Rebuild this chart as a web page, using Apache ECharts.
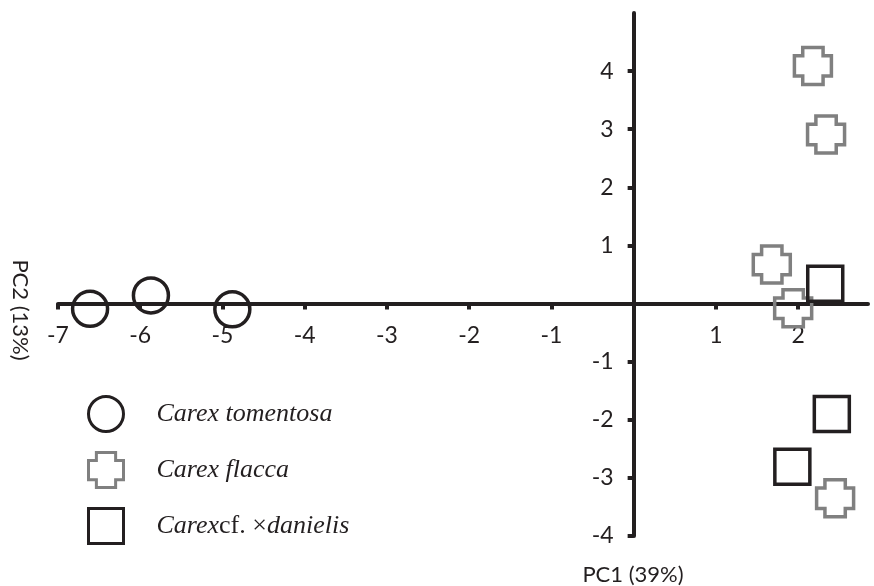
<!DOCTYPE html>
<html>
<head>
<meta charset="utf-8">
<script src="https://cdn.jsdelivr.net/npm/echarts@6/dist/echarts.min.js"></script>
<style>
  html, body { margin: 0; padding: 0; background: #fff; }
  #chart { width: 874px; height: 586px; }
</style>
</head>
<body>
<div id="chart"></div>
<script>
// PCA scores
var tomentosa = [[-6.61, -0.09], [-5.87, 0.14], [-4.88, -0.10]];
var flacca = [[2.18, 4.09], [2.34, 2.91], [1.68, 0.67], [1.94, -0.08], [2.45, -3.35]];
var danielis = [[2.33, 0.34], [2.41, -1.90], [1.93, -2.81]];

var seriesNames = ['Carex tomentosa', 'Carex flacca', 'Carex cf. ×danielis'];
var xTicks = [-7, -6, -5, -4, -3, -2, -1, 1, 2];
var yTicks = [-4, -3, -2, -1, 1, 2, 3, 4];

var axisColor = '#231f20';
var crossPath = 'path://M4.5,0H15.5V4.5H20V15.5H15.5V20H4.5V15.5H0V4.5H4.5Z';

// grid geometry, axes are shifted so that they cross at (0, 0)
var gridLeft = 58, gridTop = 13, gridW = 810, gridH = 523;
var xMin = -7, xMax = 2.85, yMin = -4, yMax = 5;
var xAxisOffset = -gridH * (0 - yMin) / (yMax - yMin);
var yAxisOffset = -gridW * (0 - xMin) / (xMax - xMin);

var chart = echarts.init(document.getElementById('chart'));
var option = {
    animation: false,
    grid: {
        left: gridLeft,
        top: gridTop,
        width: gridW,
        height: gridH,
        containLabel: false,
        outerBoundsMode: 'none'
    },
    legend: {
        orient: 'vertical',
        left: 87,
        top: 395,
        padding: 0,
        itemWidth: 35,
        itemHeight: 35,
        itemGap: 18,
        itemStyle: { borderWidth: 3, opacity: 1 },
        data: seriesNames,
        formatter: function(name) {
            if (name == seriesNames[2]) {
                return '{i|Carex}{n|cf. ×}{i|danielis}';
            }
            return '{i|' + name + '}';
        },
        textStyle: {
            padding: [0, 0, 0, 28],
            rich: {
                i: { fontFamily: 'Liberation Serif', fontStyle: 'italic', fontSize: 26, color: '#231f20' },
                n: { fontFamily: 'Liberation Serif', fontStyle: 'normal', fontSize: 26, color: '#231f20' }
            }
        }
    },
    xAxis: {
        type: 'value',
        position: 'bottom',
        offset: xAxisOffset,
        min: xMin,
        max: xMax,
        splitLine: { show: false },
        axisLine: { onZero: false, lineStyle: { color: axisColor, width: 4 } },
        axisTick: { show: true, customValues: xTicks, length: 6, lineStyle: { color: axisColor, width: 4 } },
        axisLabel: { customValues: xTicks, margin: 21, fontFamily: 'Lato', fontSize: 23, color: axisColor }
    },
    yAxis: {
        type: 'value',
        position: 'left',
        offset: yAxisOffset,
        min: yMin,
        max: yMax,
        splitLine: { show: false },
        axisLine: { onZero: false, lineStyle: { color: axisColor, width: 4 } },
        axisTick: { show: true, customValues: yTicks, length: 6, lineStyle: { color: axisColor, width: 4 } },
        axisLabel: { customValues: yTicks, margin: 20, fontFamily: 'Lato', fontSize: 23, color: axisColor }
    },
    graphic: [{
        type: 'text',
        x: 633,
        y: 575,
        style: {
            text: 'PC1 (39%)',
            align: 'center',
            verticalAlign: 'middle',
            font: '22px Lato',
            fill: axisColor
        }
    }, {
        type: 'text',
        x: 20,
        y: 310,
        rotation: -Math.PI / 2,
        style: {
            text: 'PC2 (13%)',
            align: 'center',
            verticalAlign: 'middle',
            font: '22px Lato',
            fill: axisColor
        }
    }],
    series: [{
        name: seriesNames[0],
        type: 'scatter',
        symbol: 'circle',
        symbolSize: 35,
        itemStyle: { color: 'rgba(0,0,0,0)', borderColor: axisColor, borderWidth: 3.5, opacity: 1 },
        data: tomentosa
    }, {
        name: seriesNames[1],
        type: 'scatter',
        symbol: crossPath,
        symbolSize: 37,
        symbolKeepAspect: true,
        itemStyle: { color: 'rgba(0,0,0,0)', borderColor: '#808080', borderWidth: 3.5, borderJoin: 'miter', opacity: 1 },
        data: flacca
    }, {
        name: seriesNames[2],
        type: 'scatter',
        symbol: 'rect',
        symbolSize: 35,
        itemStyle: { color: 'rgba(0,0,0,0)', borderColor: axisColor, borderWidth: 3.5, borderJoin: 'miter', opacity: 1 },
        data: danielis
    }]
};
chart.setOption(option);
</script>
</body>
</html>
